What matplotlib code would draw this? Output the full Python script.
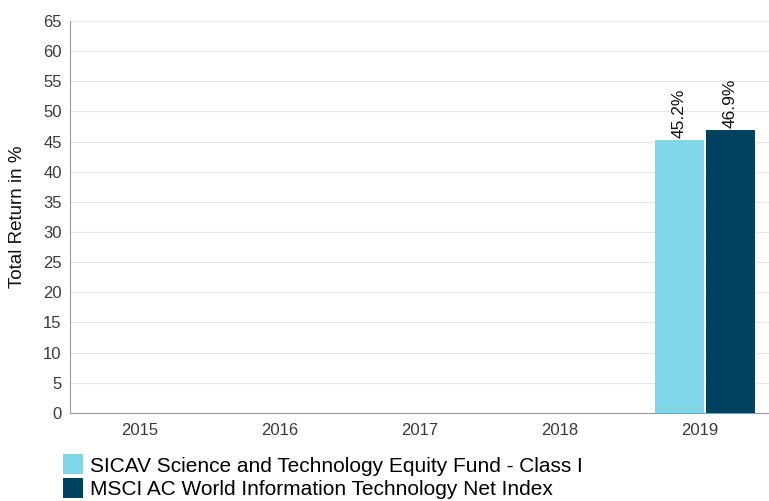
import numpy as np
import matplotlib.pyplot as plt
from matplotlib.patches import Patch

plt.rcParams['font.family'] = ['Liberation Sans', 'DejaVu Sans']

years = ['2015', '2016', '2017', '2018', '2019']
fund = [np.nan, np.nan, np.nan, np.nan, 45.2]
index = [np.nan, np.nan, np.nan, np.nan, 46.9]
series_names = ['SICAV Science and Technology Equity Fund - Class I',
                'MSCI AC World Information Technology Net Index']
colors = ['#80d6e7', '#00425f']

fig = plt.figure(figsize=(7.69, 5.01), dpi=100)
ax = fig.add_axes([0.091, 0.176, 0.91, 0.782])

x = np.arange(len(years))
w = 0.35
gap = 0.007
shift = 0.036  # bars sit slightly right of the category centre in the original
b1 = ax.bar(x + shift - w / 2 - gap, fund, w, color=colors[0], zorder=3)
b2 = ax.bar(x + shift + w / 2 + gap, index, w, color=colors[1], zorder=3)

for bars, vals in [(b1, fund), (b2, index)]:
    for rect, v in zip(bars, vals):
        if np.isnan(v):
            continue
        ax.text(rect.get_x() + rect.get_width() / 2, v + 0.4, f'{v:.1f}%',
                rotation=90, ha='center', va='bottom', fontsize=12.5, color='#111111')

ax.set_xlim(-0.5, len(years) - 0.5)
ax.set_ylim(0, 65)
ax.set_yticks(range(0, 66, 5))
ax.set_xticks(x)
ax.set_xticklabels(years)
ax.tick_params(axis='both', length=0, labelsize=12, colors='#3a3a3a')
ax.tick_params(axis='x', pad=7)
ax.tick_params(axis='y', pad=6)
ax.grid(axis='y', color='#e6e6e6', linewidth=0.8, zorder=0)
for s in ['top', 'right']:
    ax.spines[s].set_visible(False)
ax.spines['left'].set_color('#999999')
ax.spines['bottom'].set_color('#999999')
ax.set_ylabel('Total Return in %', fontsize=13.5, color='#111111', labelpad=12)

handles = [Patch(facecolor=c, edgecolor='none') for c in colors]
fig.legend(handles, series_names, loc='lower left', bbox_to_anchor=(0.071, -0.012),
           frameon=False, fontsize=15, handlelength=0.95, handleheight=1.1,
           handletextpad=0.35, labelspacing=0.1, borderaxespad=0)

fig.savefig('out.png', dpi=100)
